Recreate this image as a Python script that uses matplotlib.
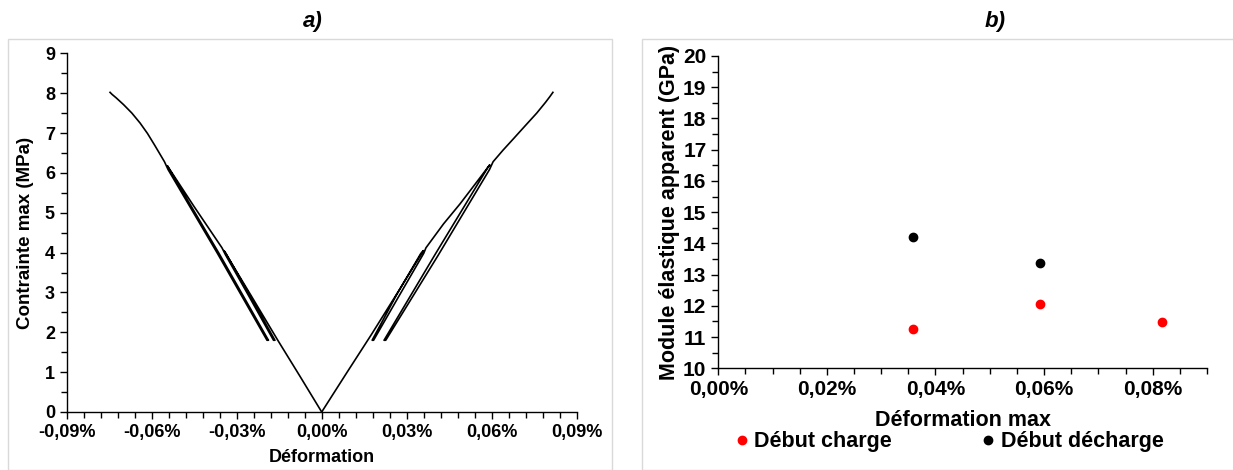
import matplotlib
matplotlib.use("Agg")
import matplotlib.pyplot as plt
from matplotlib.ticker import MultipleLocator, FuncFormatter
from matplotlib.patches import Rectangle

plt.rcParams['font.family'] = ['Liberation Sans', 'DejaVu Sans']
plt.rcParams['font.weight'] = 'bold'

# a) cyclic test, strain in %, stress in MPa (one continuous path per side)
left_strain = [0, -0.0077, -0.0155, -0.0250, -0.0345,
               -0.0338, -0.0250, -0.0165,
               -0.0170, -0.0258, -0.0340, -0.0352,
               -0.0450, -0.0545,
               -0.0540, -0.0360, -0.0188,
               -0.0193, -0.0368, -0.0542, -0.0555,
               -0.0590, -0.0615, -0.0641, -0.0670, -0.0699, -0.0725,
               -0.0740, -0.0747]
left_stress = [0, 0.90, 1.80, 2.93, 4.05,
               3.98, 2.88, 1.80,
               1.80, 2.92, 3.95, 4.12,
               5.15, 6.18,
               6.12, 3.95, 1.80,
               1.80, 3.98, 6.08, 6.28,
               6.70, 6.99, 7.25, 7.50, 7.71, 7.88,
               7.97, 8.02]

right_strain = [0, 0.0088, 0.0176, 0.0270, 0.0359,
                0.0350, 0.0265, 0.0178,
                0.0183, 0.0272, 0.0360, 0.0368,
                0.0430, 0.0488, 0.0545, 0.0593,
                0.0585, 0.0400, 0.0220,
                0.0226, 0.0410, 0.0592, 0.0605,
                0.0640, 0.0676, 0.0718, 0.0759, 0.0790, 0.0806, 0.0816]
right_stress = [0, 0.98, 1.95, 3.02, 4.05,
                3.98, 2.95, 1.80,
                1.80, 2.90, 3.98, 4.12,
                4.72, 5.22, 5.75, 6.20,
                6.12, 3.95, 1.80,
                1.80, 3.92, 6.08, 6.28,
                6.57, 6.85, 7.18, 7.50, 7.77, 7.92, 8.02]

# b) apparent modulus (GPa) vs max strain (%)
charge_x = [0.0359, 0.0593, 0.0817]
charge_y = [11.26, 12.07, 11.49]
decharge_x = [0.0359, 0.0593]
decharge_y = [14.21, 13.36]

W, H = 1233, 470
fig = plt.figure(figsize=(W / 100, H / 100), dpi=100)

# panel frames
fig.patches.append(Rectangle((8 / W, 0), (611.7 - 8) / W, (H - 39) / H,
                             transform=fig.transFigure, fill=False,
                             edgecolor='#d9d9d9', linewidth=1.0))
fig.patches.append(Rectangle((641.7 / W, 0), (W - 641.7 + 5) / W, (H - 39) / H,
                             transform=fig.transFigure, fill=False,
                             edgecolor='#d9d9d9', linewidth=1.0))


def pct(v, pos):
    s = f"{v:.2f}%".replace('.', ',')
    if s.startswith('-0,00'):
        s = s[1:]
    return s


def style(ax, size):
    for side in ['top', 'right']:
        ax.spines[side].set_visible(False)
    for side in ['left', 'bottom']:
        ax.spines[side].set_linewidth(1.0)
    ax.tick_params(which='major', direction='out', length=5, width=1,
                   labelsize=size)
    ax.tick_params(which='minor', direction='out', length=4, width=1)
    ax.xaxis.set_major_formatter(FuncFormatter(pct))
    for lab in ax.get_xticklabels() + ax.get_yticklabels():
        lab.set_fontweight('bold')


# ---- a)
ax1 = fig.add_axes([66.7 / W, (H - 412) / H, 510 / W, (412 - 53.3) / H])
ax1.plot(left_strain, left_stress, color='black', lw=1.2)
ax1.plot(right_strain, right_stress, color='black', lw=1.2)
ax1.set_xlim(-0.09, 0.09)
ax1.set_ylim(0, 9)
ax1.xaxis.set_major_locator(MultipleLocator(0.03))
ax1.xaxis.set_minor_locator(MultipleLocator(0.006))
ax1.yaxis.set_major_locator(MultipleLocator(1))
ax1.yaxis.set_minor_locator(MultipleLocator(0.5))
style(ax1, 13)
ax1.set_xlabel('Déformation', fontsize=13, fontweight='bold', labelpad=6)
ax1.set_ylabel('Contrainte max (MPa)', fontsize=13.5, fontweight='bold',
               labelpad=8)

# ---- b)
ax2 = fig.add_axes([718.3 / W, (H - 368.3) / H, 488.7 / W, (368.3 - 56) / H])
ax2.plot(charge_x, charge_y, 'o', color='#ff0000', ms=6,
         label='Début charge')
ax2.plot(decharge_x, decharge_y, 'o', color='black', ms=6,
         label='Début décharge')
ax2.set_xlim(0, 0.09)
ax2.set_ylim(10, 20)
ax2.xaxis.set_major_locator(MultipleLocator(0.02))
ax2.xaxis.set_minor_locator(MultipleLocator(0.005))
ax2.yaxis.set_major_locator(MultipleLocator(1))
ax2.yaxis.set_minor_locator(MultipleLocator(0.5))
style(ax2, 15)
ax2.set_xlabel('Déformation max', fontsize=15.5, fontweight='bold', labelpad=8)
ax2.set_ylabel('Module élastique apparent (GPa)', fontsize=15.5,
               fontweight='bold', labelpad=2)
ax2.legend(loc='center', bbox_to_anchor=(950 / W, (H - 442) / H),
           bbox_transform=fig.transFigure, ncol=2, frameon=False,
           handlelength=0.5, handletextpad=0.35, columnspacing=4.2,
           borderpad=0, prop={'weight': 'bold', 'size': 15.5})

fig.text(313 / W, 1 - 22 / H, 'a)', fontsize=16, fontweight='bold',
         fontstyle='italic', ha='center', va='center')
fig.text(995 / W, 1 - 22 / H, 'b)', fontsize=16, fontweight='bold',
         fontstyle='italic', ha='center', va='center')

fig.savefig('out.png', dpi=100)
